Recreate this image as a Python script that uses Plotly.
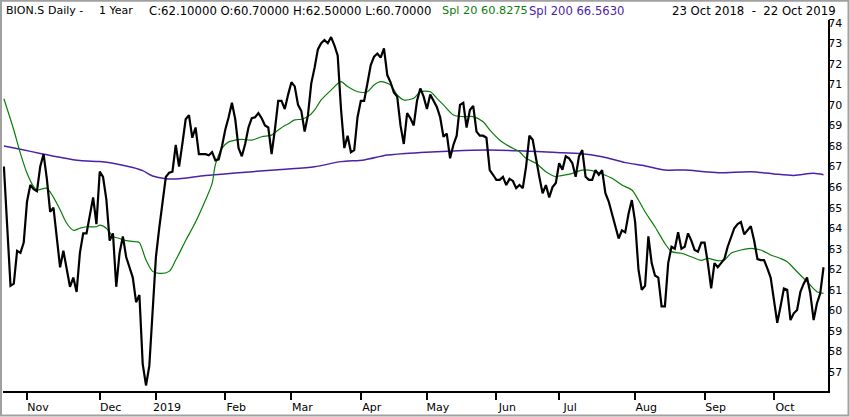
import plotly.graph_objects as go

# ---- data ----
price_close = [
    67.0, 64.2, 61.2, 61.3, 62.9, 62.8, 63.3, 65.3, 66.1, 65.9,
    65.8, 67.0, 67.6, 66.4, 64.8, 65.0, 63.6, 62.1, 62.9, 62.1,
    61.15, 61.6, 60.9, 62.8, 63.75, 63.75, 64.6, 65.5, 64.2, 66.75,
    66.5, 65.4, 63.4, 63.75, 61.15, 62.8, 63.6, 62.6, 62.1, 61.6,
    60.4, 60.75, 57.4, 56.35, 57.3, 59.8, 62.6, 64.0, 65.3, 66.5,
    66.7, 66.75, 68.05, 67.0, 68.1, 69.3, 69.5, 68.4, 68.9, 67.6,
    67.6, 67.6, 67.55, 67.7, 67.3, 67.35, 68.0, 68.8, 69.4, 70.1,
    69.3, 67.9, 67.5, 68.1, 68.9, 69.35, 69.4, 69.6, 69.35, 69.0,
    68.9, 67.6, 68.8, 70.2, 70.2, 69.8, 70.5, 71.1, 70.9, 70.0,
    69.7, 68.7, 69.5, 71.05, 71.8, 72.7, 73.0, 73.16, 73.0, 73.3,
    72.9, 72.4, 69.8, 67.9, 68.5, 67.7, 67.8, 69.4, 70.2, 70.2,
    71.05, 71.94, 72.35, 72.5, 72.3, 72.75, 71.45, 71.1, 70.6, 70.4,
    69.0, 68.1, 69.6, 69.35, 69.0, 70.2, 70.8, 70.4, 69.8, 70.5,
    70.2, 69.9, 69.4, 68.45, 68.6, 67.4, 68.05, 68.5, 70.0, 70.1,
    68.9, 69.75, 69.95, 68.7, 68.5, 68.5, 68.4, 66.83, 66.6, 66.35,
    66.35, 66.5, 66.1, 66.4, 66.3, 65.95, 66.1, 65.95, 67.0, 68.5,
    68.3, 67.3, 66.5, 65.7, 66.1, 65.5, 66.0, 66.2, 67.16, 66.85,
    67.5, 67.4, 67.16, 66.5, 67.5, 67.8, 66.5, 66.35, 66.35, 66.83,
    66.6, 66.83, 65.7, 65.3, 64.7, 64.1, 63.5, 63.9, 63.8, 64.7,
    65.37, 64.3, 62.0, 61.0, 61.2, 63.6, 62.3, 61.7, 61.6, 60.2,
    60.2, 62.3, 63.1, 63.0, 63.8, 63.0, 63.1, 63.75, 63.4, 62.94,
    62.86, 63.3, 63.3, 62.3, 61.07, 62.3, 62.1, 62.3, 62.5, 63.1,
    63.6, 64.0, 64.2, 64.3, 63.7, 63.9, 64.1, 63.4, 62.5, 62.45,
    62.45, 62.05, 61.6, 60.5, 59.4, 60.2, 61.07, 61.0, 59.53, 59.86,
    60.02, 60.9, 61.3, 61.6, 60.83, 59.53, 60.34, 60.83, 62.1,
]
price_day = list(range(len(price_close)))

spl20_day = [0, 3, 5, 7, 9, 10, 13, 15, 17, 19, 21, 23, 25, 28, 29, 31, 33, 35, 37, 40,
             41, 43, 45, 47, 50, 52, 55, 58, 61, 63, 64, 66, 68, 70, 72, 75, 78, 81, 83, 85,
             86, 88, 90, 92, 94, 96, 99, 102, 104, 107, 110, 112, 114, 117, 119, 121, 124, 126, 129, 131,
             133, 136, 139, 142, 145, 147, 150, 153, 156, 158, 161, 164, 167, 168, 172, 175, 178, 181, 184, 187,
             190, 192, 194, 197, 200, 202, 205, 208, 211, 213, 216, 218, 220, 223, 226, 229, 232, 235, 237, 240,
             243, 246, 248]
spl20_val = [70.3, 68.78, 67.64, 66.67, 66.02, 65.86, 65.94, 65.5, 64.9, 64.24, 63.9, 64.0, 64.07, 64.07, 64.15, 64.0, 63.6, 63.5, 63.4, 63.34,
             63.3, 62.45, 61.9, 61.8, 61.9, 62.45, 63.4, 64.3, 65.37, 66.18, 67.1, 67.89, 68.2, 68.29, 68.32, 68.29, 68.45, 68.53, 68.78, 69.0,
             69.07, 69.27, 69.3, 69.43, 69.75, 70.24, 70.72, 71.13, 70.89, 70.64, 70.64, 70.97, 71.13, 70.97, 70.48, 70.24, 70.32, 70.64, 70.64, 70.32,
             70.0, 69.51, 69.43, 69.43, 69.18, 68.78, 68.29, 67.97, 67.72, 67.4, 67.16, 66.75, 66.51, 66.54, 66.67, 66.83, 66.8, 66.64, 66.43, 66.1,
             65.86, 65.37, 64.8, 64.07, 63.26, 62.86, 62.78, 62.61, 62.44, 62.53, 62.42, 62.45, 62.78, 62.94, 63.02, 62.94, 62.7, 62.53, 62.37, 61.88,
             61.4, 60.91, 60.83]

spl200_day = [0, 5, 11, 17, 23, 29, 33, 39, 42, 45, 49, 53, 61, 71, 84, 94, 102, 109, 116, 126,
              136, 146, 156, 169, 174, 181, 188, 194, 200, 206, 212, 217, 226, 233, 239, 245, 248]
spl200_val = [68.0, 67.84, 67.64, 67.45, 67.29, 67.24, 67.16, 66.95, 66.8, 66.54, 66.41, 66.41, 66.57, 66.7, 66.86, 66.99, 67.24, 67.32, 67.56, 67.68,
              67.76, 67.8, 67.77, 67.67, 67.64, 67.48, 67.19, 67.03, 66.83, 66.83, 66.75, 66.7, 66.75, 66.64, 66.57, 66.67, 66.6]

month_tick_day = [7, 29, 46, 67, 87, 108, 128, 149, 168, 191, 212, 233]
month_tick_text = ["Nov", "Dec", "2019", "Feb", "Mar", "Apr", "May", "Jun", "Jul", "Aug", "Sep", "Oct"]
y_ticks = list(range(57, 75))

header_parts = [  # (text, left x in px, colour key, font size)
    ("BION.S", 4, "black", 11),
    ("Daily -", 46, "black", 11),
    ("1 Year", 97, "black", 11),
    ("C:62.10000 O:60.70000 H:62.50000 L:60.70000", 147, "black", 11.7),
    ("Spl 20 60.8275", 440, "green", 11.3),
    ("Spl 200 66.5630", 527, "purple", 11.6),
]
header_range = "23 Oct 2018\u00a0\u00a0-\u00a0\u00a022 Oct 2019"

# ---- styling ----
COLORS = {"black": "black", "green": "#0a7d0a", "purple": "#4a22a6"}
FONT = "DejaVu Sans"

W, H = 850, 417
L, R, T, B = 3, 22, 20, 26
pw, ph = W - L - R, H - T - B


def px_x(px):
    return (px - L) / pw


def px_y(py):
    return (H - B - py) / ph


fig = go.Figure()
fig.add_trace(go.Scatter(x=spl200_day, y=spl200_val, mode="lines",
                         line=dict(color=COLORS["purple"], width=1.5, shape="spline", smoothing=0.8),
                         name="Spl 200", hoverinfo="skip"))
fig.add_trace(go.Scatter(x=spl20_day, y=spl20_val, mode="lines",
                         line=dict(color=COLORS["green"], width=1.2, shape="spline", smoothing=0.8),
                         name="Spl 20", hoverinfo="skip"))
fig.add_trace(go.Scatter(x=price_day, y=price_close, mode="lines",
                         line=dict(color="black", width=2.2),
                         name="BION.S"))

fig.update_layout(
    width=W, height=H,
    margin=dict(l=L, r=R, t=T, b=B, autoexpand=False),
    paper_bgcolor="white", plot_bgcolor="white",
    showlegend=False,
    font=dict(family=FONT, size=11, color="black"),
    xaxis=dict(
        range=[-0.27, 249.35], showgrid=False, zeroline=False, automargin=False,
        showline=True, linecolor="black", linewidth=2,
        ticks="outside", ticklen=7, tickwidth=2, tickcolor="black",
        tickvals=month_tick_day, ticktext=month_tick_text,
        ticklabelshift=11, ticklabelstandoff=-2,
        tickfont=dict(family=FONT, size=11, color="black"),
    ),
    yaxis=dict(
        range=[56.08, 74.13], side="right", showgrid=False, zeroline=False, automargin=False,
        showline=True, linecolor="black", linewidth=2,
        ticks="", tickvals=y_ticks, ticktext=[str(v) for v in y_ticks],
        ticklabelstandoff=-4,
        tickfont=dict(family=FONT, size=11, color="black"),
    ),
)

yh = px_y(11)
for text, x_px, ckey, fsize in header_parts:
    fig.add_annotation(text=text, x=px_x(x_px), y=yh, xref="paper", yref="paper",
                       xanchor="left", yanchor="middle", showarrow=False,
                       font=dict(family=FONT, size=fsize, color=COLORS[ckey]))
fig.add_annotation(text=header_range, x=px_x(838), y=yh, xref="paper", yref="paper",
                   xanchor="right", yanchor="middle", showarrow=False,
                   font=dict(family=FONT, size=11.7, color="black"))

# outer grey frame
fig.add_shape(type="rect", xref="paper", yref="paper",
              x0=px_x(1), x1=px_x(848.5), y0=px_y(415.5), y1=px_y(0.8),
              line=dict(color="#a0a0a0", width=2), fillcolor="rgba(0,0,0,0)", layer="above")

fig.write_html("out.html", config={"displayModeBar": False},
               post_script="document.body.style.margin='0';document.body.style.overflow='hidden';")
